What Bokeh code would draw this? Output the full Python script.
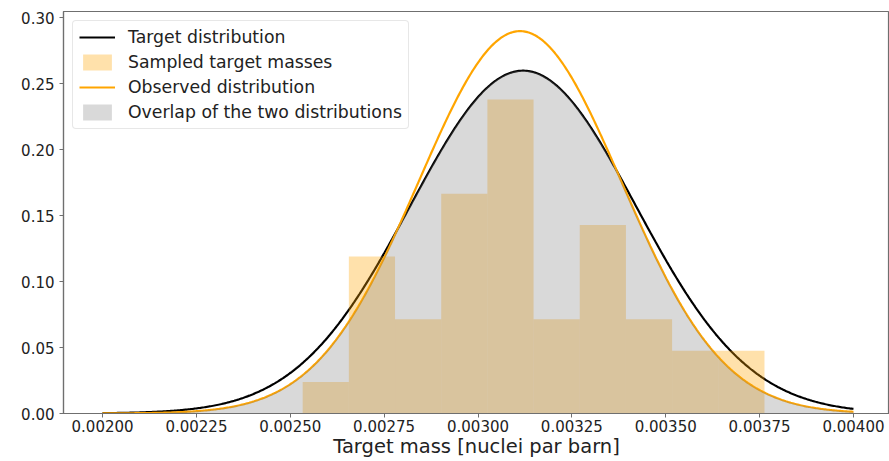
import numpy as np
from bokeh.plotting import figure
from bokeh.models import Legend, LegendItem, FixedTicker, PrintfTickFormatter, Range1d
from bokeh.embed import file_html
from bokeh.resources import INLINE

# ---- data ----
bin_edges = [0.002533, 0.002656, 0.002779, 0.002902, 0.003025, 0.003148,
             0.003271, 0.003394, 0.003517, 0.003640, 0.003763]
bin_heights = [0.0238, 0.1190, 0.0714, 0.1667, 0.2381, 0.0714, 0.1429, 0.0714, 0.0476, 0.0476]

target_mean, target_sigma, target_peak = 0.003120, 0.000300, 0.260
observed_mean, observed_sigma, observed_peak = 0.003112, 0.000270, 0.290
curve_start, curve_stop = 0.002, 0.004

x_ticks = [0.002, 0.00225, 0.0025, 0.00275, 0.003, 0.00325, 0.0035, 0.00375, 0.004]
y_ticks = [0.0, 0.05, 0.10, 0.15, 0.20, 0.25, 0.30]

x = np.linspace(curve_start, curve_stop, 600)
target = target_peak * np.exp(-0.5 * ((x - target_mean) / target_sigma) ** 2)
observed = observed_peak * np.exp(-0.5 * ((x - observed_mean) / observed_sigma) ** 2)
overlap = np.minimum(target, observed)

FONT = "DejaVu Sans"

p = figure(width=889, height=461, output_backend="svg", toolbar_location=None,
           x_range=Range1d(0.001896, 0.004096), y_range=Range1d(0, 0.3049),
           min_border_left=63, min_border_right=0, min_border_top=11, min_border_bottom=48)
p.xgrid.visible = False
p.ygrid.visible = False
p.outline_line_color = "#6f6f6f"
p.outline_line_width = 1.2
p.background_fill_color = "white"
p.border_fill_color = "white"

r_target = p.line(x, target, line_color="black", line_width=2.2)
r_bars = p.quad(left=bin_edges[:-1], right=bin_edges[1:], bottom=0, top=bin_heights,
                fill_color="#ffa500", fill_alpha=0.33, line_color=None)
r_obs = p.line(x, observed, line_color="#ffa500", line_width=2.2)
r_overlap = p.varea(x=x, y1=0, y2=overlap, fill_color="#808080", fill_alpha=0.3)

for ax in (p.xaxis[0], p.yaxis[0]):
    ax.axis_line_color = "#6f6f6f"
    ax.axis_line_width = 1.2
    ax.major_tick_line_color = "#6f6f6f"
    ax.major_tick_out = 4
    ax.major_tick_in = 0
    ax.minor_tick_line_color = None
    ax.major_label_text_font = FONT
    ax.major_label_text_font_size = "15px"
    ax.major_label_text_color = "#222222"

p.xaxis.ticker = FixedTicker(ticks=x_ticks)
p.xaxis.formatter = PrintfTickFormatter(format="%.5f")
p.yaxis.ticker = FixedTicker(ticks=y_ticks)
p.yaxis.formatter = PrintfTickFormatter(format="%.2f")
p.xaxis.major_label_standoff = 2
p.yaxis.major_label_standoff = 5
p.xaxis.axis_label = "Target mass [nuclei par barn]"
p.xaxis.axis_label_text_font = FONT
p.xaxis.axis_label_text_font_size = "19.5px"
p.xaxis.axis_label_text_font_style = "normal"
p.xaxis.axis_label_text_color = "#222222"
p.xaxis.axis_label_standoff = 0

legend = Legend(items=[
    LegendItem(label="Target distribution", renderers=[r_target]),
    LegendItem(label="Sampled target masses", renderers=[r_bars]),
    LegendItem(label="Observed distribution", renderers=[r_obs]),
    LegendItem(label="Overlap of the two distributions", renderers=[r_overlap]),
], location="top_left")
legend.margin = 9
legend.padding = 6
legend.spacing = 5
legend.glyph_width = 36
legend.glyph_height = 20
legend.label_standoff = 13
legend.label_text_font = FONT
legend.label_text_font_size = "17.3px"
legend.label_text_color = "#222222"
legend.border_line_color = "#d0d0d0"
legend.border_line_width = 1
legend.border_radius = 4
legend.background_fill_alpha = 0.8
p.add_layout(legend)

open("out.html", "w").write(file_html(p, INLINE))
